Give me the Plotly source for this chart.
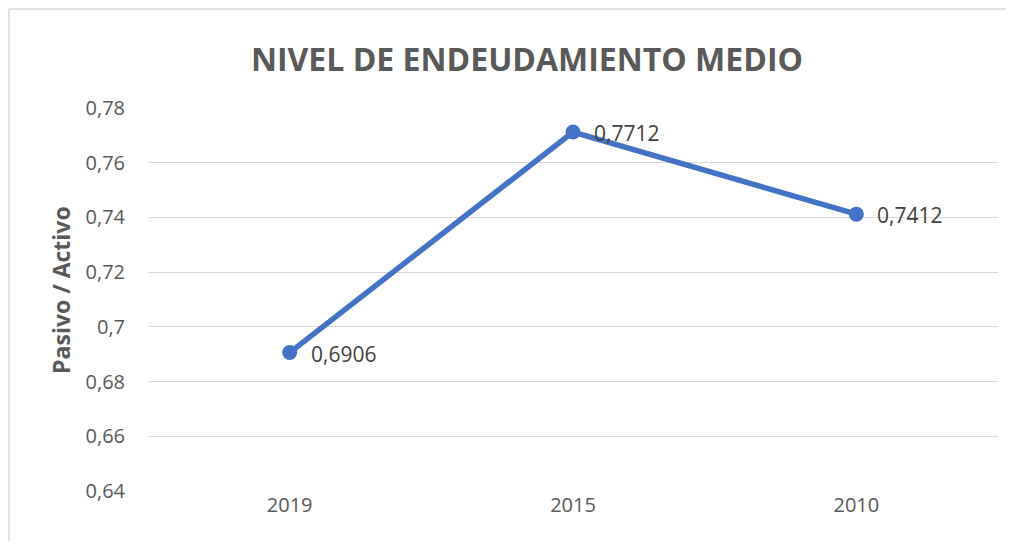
import plotly.graph_objects as go

years = ["2019", "2015", "2010"]
ratio = [0.6906, 0.7712, 0.7412]
labels = ["0,6906", "0,7712", "0,7412"]
y_ticks = [0.64, 0.66, 0.68, 0.70, 0.72, 0.74, 0.76, 0.78]

blue = "#4472C4"
grey_text = "#595959"
border = "#D9D9D9"
font_family = "Open Sans, Liberation Sans, sans-serif"

fig = go.Figure()
fig.add_trace(
    go.Scatter(
        x=years,
        y=ratio,
        mode="lines+markers",
        line=dict(color=blue, width=5.5),
        marker=dict(color=blue, size=15),
        cliponaxis=False,
        showlegend=False,
    )
)

# data labels sit a little to the right of each marker (x given as category index)
for i, (val, lab) in enumerate(zip(ratio, labels)):
    fig.add_annotation(
        x=i,
        y=val,
        xref="x",
        yref="y",
        text=lab,
        showarrow=False,
        xanchor="left",
        yanchor="middle",
        xshift=19,
        yshift=-1,
        font=dict(size=21, color="#404040", family=font_family),
    )

# y axis title as annotation so it can be placed like the original
fig.add_annotation(
    x=-0.1024,
    y=0.525,
    xref="paper",
    yref="paper",
    text="<b>Pasivo / Activo</b>",
    textangle=-90,
    showarrow=False,
    xanchor="center",
    yanchor="middle",
    font=dict(size=23, color=grey_text, family=font_family),
)

fig.update_layout(
    width=998,
    height=533,
    margin=dict(l=140, r=8, t=100, b=50),
    paper_bgcolor="white",
    plot_bgcolor="white",
    separators=",.",
    font=dict(family=font_family, color=grey_text),
    title=dict(
        text="<b>NIVEL DE ENDEUDAMIENTO MEDIO</b>",
        x=0.52,
        xanchor="center",
        y=0.902,
        yanchor="middle",
        font=dict(size=32, color=grey_text, family=font_family),
    ),
    shapes=[
        # chart-area frame: only top and left edges are visible in the crop
        dict(type="line", xref="paper", yref="paper",
             x0=-0.1635, x1=1.2, y0=1.2585, y1=1.2585,
             line=dict(color=border, width=1.5), layer="below"),
        dict(type="line", xref="paper", yref="paper",
             x0=-0.1635, x1=-0.1635, y0=-0.4, y1=1.2585,
             line=dict(color=border, width=1.5), layer="below"),
    ],
)

fig.update_xaxes(
    type="category",
    range=[-0.5, 2.5],
    showgrid=False,
    showline=False,
    ticks="",
    tickfont=dict(size=20, color=grey_text),
)

fig.update_yaxes(
    range=[0.64, 0.78],
    tickvals=y_ticks,
    tickformat=".2~f",
    showgrid=True,
    gridcolor=border,
    gridwidth=1.2,
    zeroline=False,
    showline=False,
    ticks="outside",
    ticklen=18,
    tickcolor="rgba(0,0,0,0)",
    tickfont=dict(size=20, color=grey_text),
)

fig.write_html("out.html")
